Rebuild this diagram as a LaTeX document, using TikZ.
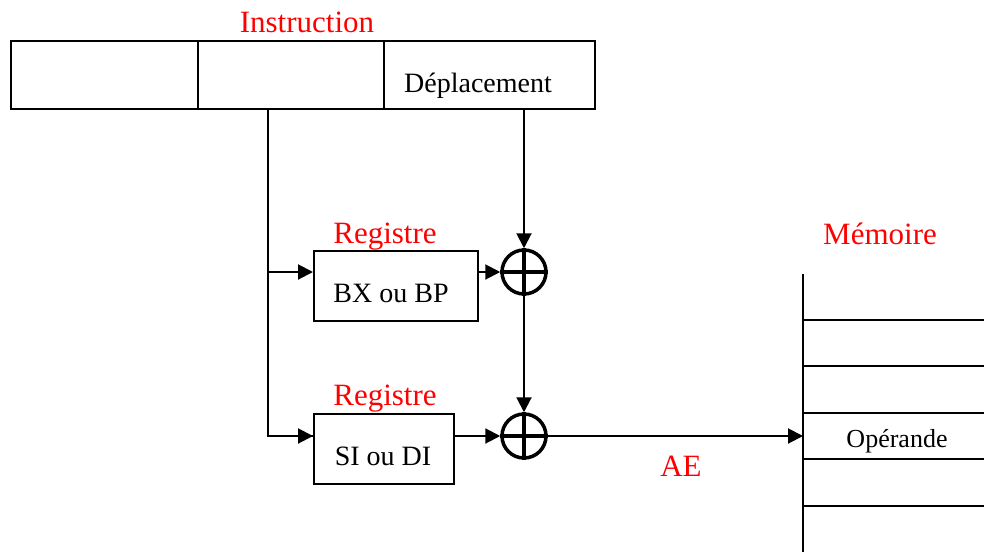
\documentclass[tikz,border=0pt]{standalone}
\usepackage{fontspec}
\setmainfont{Liberation Serif}
\usepackage{tikz}
\usetikzlibrary{arrows.meta,positioning}
\definecolor{lblred}{RGB}{255,0,0}
\tikzset{
  field/.style={draw,line width=2pt,minimum height=68pt,inner sep=0pt,anchor=north west},
  regbox/.style={draw,line width=2pt,minimum height=70pt,inner sep=0pt,anchor=north west},
  adder/.style={draw,circle,line width=3.5pt,minimum size=44pt,inner sep=0pt},
  title/.style={text=lblred,font=\fontsize{31}{33}\selectfont,anchor=base,inner sep=0pt},
  txt/.style={font=\fontsize{28}{30}\selectfont,anchor=base,inner sep=0pt},
  wire/.style={line width=2pt},
  arr/.style={wire,-{Triangle[length=15pt,width=15pt]}}
}
\begin{document}
\begin{tikzpicture}[x=1pt,y=-1pt]
  \useasboundingbox (0,0) rectangle (984,552);
  % Instruction word
  \node[title] (instr) at (307,32) {Instruction};
  \node[field,minimum width=187pt] (f1) at (10,40) {};
  \node[field,minimum width=186pt] (f2) at (197,40) {};
  \node[field,minimum width=211pt] (f3) at (383,40) {};
  \node[txt] (depl) at (478,92) {Déplacement};
  % Registers
  \node[title] (reg1) at (385,243) {Registre};
  \node[regbox,minimum width=164pt] (bx) at (313,250) {};
  \node[txt] (bxt) at (391,302) {BX ou BP};
  \node[title] (reg2) at (385,405) {Registre};
  \node[regbox,minimum width=140pt] (si) at (313,413) {};
  \node[txt] (sit) at (383,465) {SI ou DI};
  % Adders
  \node[adder] (plus1) at (524,272) {};
  \draw[line width=3.5pt] (plus1.north) -- (plus1.south) (plus1.west) -- (plus1.east);
  \node[adder] (plus2) at (524,436) {};
  \draw[line width=3.5pt] (plus2.north) -- (plus2.south) (plus2.west) -- (plus2.east);
  % Wiring
  \coordinate (tap) at ([xshift=-23pt]f2.south);
  \draw[wire] (tap) |- (si.west |- plus2);
  \draw[arr] (tap |- plus2) -- (si.west |- plus2);
  \draw[arr] (tap |- plus1) -- (bx.west |- plus1);
  \draw[arr] (plus1.north |- f3.south) -- (plus1.north);
  \draw[arr] (bx.east |- plus1.west) -- (plus1.west);
  \draw[arr] (si.east |- plus2.west) -- (plus2.west);
  \draw[arr] (plus1.south) -- (plus2.north);
  % Memory
  \node[title] (mem) at (880,244) {Mémoire};
  \draw[wire] (803,274) -- (803,552);
  \foreach \y in {320,366,413,459,506}
    \draw[wire] (803,\y) -- (984,\y);
  \node[txt,font=\fontsize{26}{28}\selectfont] (oper) at (897,447) {Opérande};
  \coordinate (memin) at (803,436);
  \draw[arr] (plus2.east) -- (memin);
  \node[title] (ae) at (681,476) {AE};
\end{tikzpicture}
\end{document}
